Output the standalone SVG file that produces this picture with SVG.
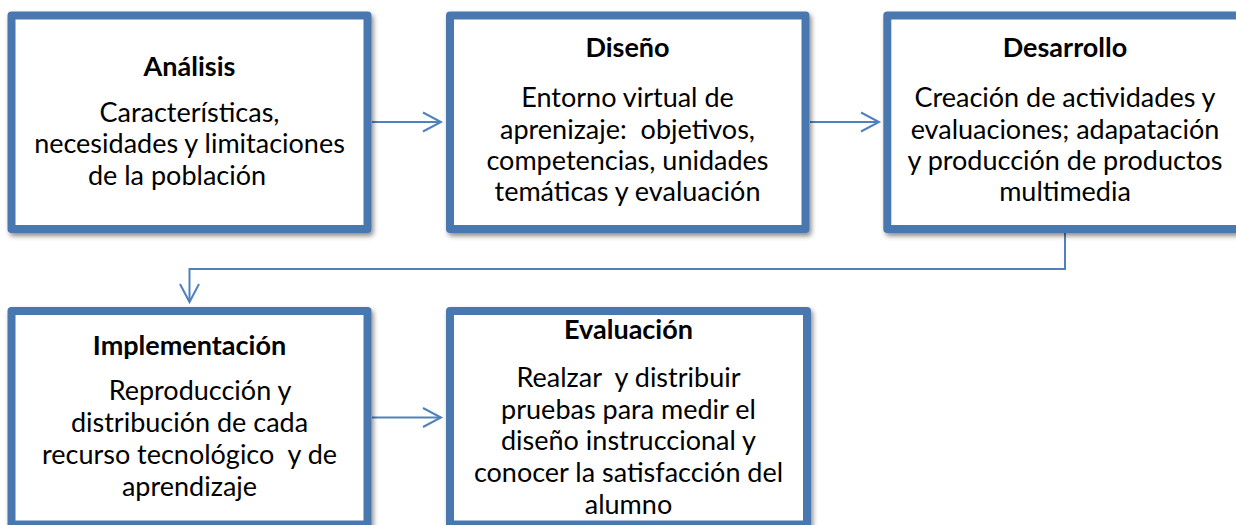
<svg xmlns="http://www.w3.org/2000/svg" width="1236" height="525" viewBox="0 0 1236 525">
<style>
.box{fill:#ffffff;stroke:#4A77B0;stroke-width:8;stroke-linejoin:round;filter:url(#sh)}
.t{font-family:Lato,"Liberation Sans",sans-serif;font-size:27px;fill:#000;text-anchor:middle}
.b{font-weight:bold}
.c{fill:none;stroke:#4F81BD;stroke-width:2}
</style>
<defs>
<filter id="sh" x="-5%" y="-5%" width="115%" height="115%">
<feDropShadow dx="2" dy="3" stdDeviation="2.5" flood-color="#000" flood-opacity="0.45"/>
</filter>
<marker id="ar" viewBox="-22 -12 26 24" markerWidth="26" markerHeight="24" refX="0" refY="0" orient="auto" markerUnits="userSpaceOnUse" overflow="visible">
<path d="M-18,-9.5 L0,0 L-18,9.5" fill="none" stroke="#4F81BD" stroke-width="2"/>
</marker>
</defs>
<g id="connectors">
<path class="c" d="M372,122 H441" marker-end="url(#ar)"/>
<path class="c" d="M810,122 H879" marker-end="url(#ar)"/>
<path class="c" d="M1065,233 V269 H189.5 V302" marker-end="url(#ar)"/>
<path class="c" d="M372,417.5 H441" marker-end="url(#ar)"/>
</g>
<g id="analisis">
<rect class="box" x="11.5" y="15.5" width="356" height="213.5"/>
<text class="t b" x="189.5" y="76">Análisis</text>
<text class="t" x="189.5" y="122">Características,</text>
<text class="t" x="189.5" y="153">necesidades y limitaciones</text>
<text class="t" x="177" y="185">de la población</text>
</g>
<g id="diseno">
<rect class="box" x="450" y="15.5" width="355.5" height="213.5"/>
<text class="t b" x="627.5" y="57">Diseño</text>
<text class="t" x="627.5" y="107">Entorno virtual de</text>
<text class="t" x="627.5" y="139" xml:space="preserve">aprenizaje:  objetivos,</text>
<text class="t" x="627.5" y="170">competencias, unidades</text>
<text class="t" x="627.5" y="201">temáticas y evaluación</text>
</g>
<g id="desarrollo">
<rect class="box" x="887.3" y="15.5" width="356" height="213.5"/>
<text class="t b" x="1065" y="57">Desarrollo</text>
<text class="t" x="1065" y="107">Creación de actividades y</text>
<text class="t" x="1065" y="139">evaluaciones; adapatación</text>
<text class="t" x="1065" y="170">y producción de productos</text>
<text class="t" x="1065" y="201">multimedia</text>
</g>
<g id="implementacion">
<rect class="box" x="11.5" y="311" width="356" height="213.5"/>
<text class="t b" x="189.5" y="355">Implementación</text>
<text class="t" x="200" y="400">Reproducción y</text>
<text class="t" x="189.5" y="432">distribución de cada</text>
<text class="t" x="189.5" y="464" xml:space="preserve">recurso tecnológico  y de</text>
<text class="t" x="189.5" y="496">aprendizaje</text>
</g>
<g id="evaluacion">
<rect class="box" x="450" y="311" width="357" height="213.5"/>
<text class="t b" x="628.5" y="339">Evaluación</text>
<text class="t" x="628.5" y="387" xml:space="preserve">Realzar  y distribuir</text>
<text class="t" x="628.5" y="419">pruebas para medir el</text>
<text class="t" x="628.5" y="450">diseño instruccional y</text>
<text class="t" x="628.5" y="482">conocer la satisfacción del</text>
<text class="t" x="628.5" y="514">alumno</text>
</g>
</svg>
